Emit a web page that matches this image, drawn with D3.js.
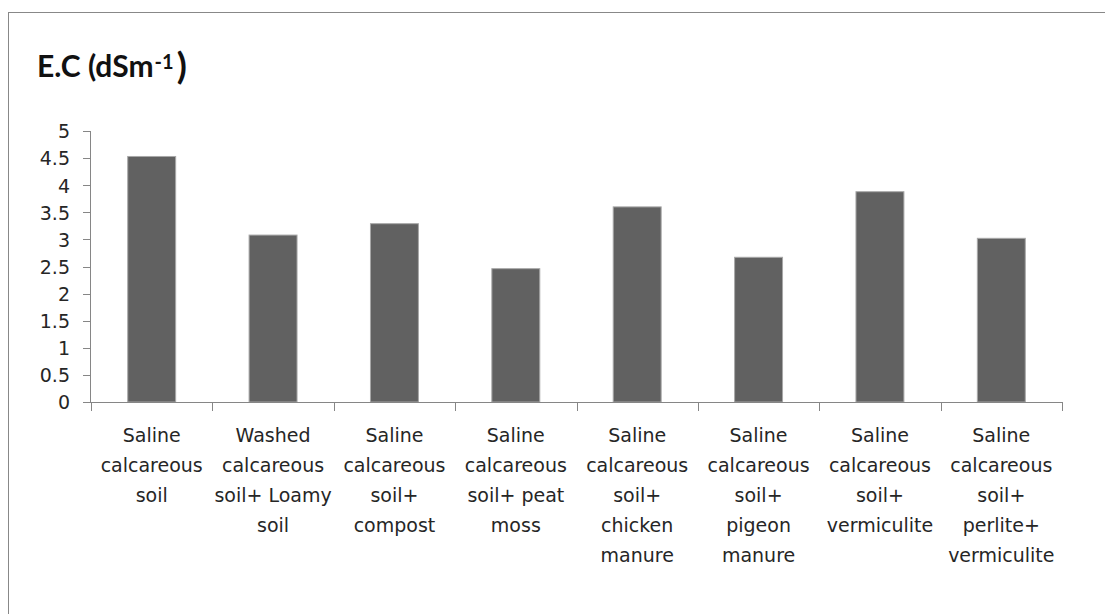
<html lang="en">
<head>
<meta charset="utf-8">
<title>E.C bar chart</title>
<style>
    body { margin: 0; background-color: white; }
    svg { display: block; background-color: white; }
    .axis path, .axis line { fill: none; stroke: #868686; shape-rendering: crispEdges; }
    .axis text { font-family: "DejaVu Sans", sans-serif; font-size: 19px; fill: #262626; }
    .title { font-family: Lato, sans-serif; font-weight: bold; font-size: 30px; fill: #111; }
    .bar { fill: #616161; stroke: #a8a8a8; stroke-width: 1; }
</style>
</head>
<body>
<script src="https://cdnjs.cloudflare.com/ajax/libs/d3/7.8.5/d3.min.js"></script>
<script>
var categories = [
    ["Saline", "calcareous", "soil"],
    ["Washed", "calcareous", "soil+ Loamy", "soil"],
    ["Saline", "calcareous", "soil+", "compost"],
    ["Saline", "calcareous", "soil+ peat", "moss"],
    ["Saline", "calcareous", "soil+", "chicken", "manure"],
    ["Saline", "calcareous", "soil+", "pigeon", "manure"],
    ["Saline", "calcareous", "soil+", "vermiculite"],
    ["Saline", "calcareous", "soil+", "perlite+", "vermiculite"]
];
var ecValues = [4.53, 3.08, 3.29, 2.46, 3.60, 2.67, 3.88, 3.02];
var yTicks = [0, 0.5, 1, 1.5, 2, 2.5, 3, 3.5, 4, 4.5, 5];

var fullwidth = 1105, fullheight = 614;
var margin = { left: 91, right: 43, top: 131, bottom: 212 };
var width = fullwidth - margin.left - margin.right;
var height = fullheight - margin.top - margin.bottom;

var svg = d3.select("body").append("svg")
    .attr("width", fullwidth)
    .attr("height", fullheight);

// chart frame
svg.append("rect")
    .attr("x", 8.5).attr("y", 12.5)
    .attr("width", 1200).attr("height", 800)
    .attr("fill", "none")
    .attr("stroke", "#888");

var title = svg.append("text")
    .attr("class", "title")
    .attr("x", 37).attr("y", 77)
    .text("E.C (dSm");
title.append("tspan").attr("font-size", "20px").attr("dx", 1).attr("dy", -8).text("-1");
title.append("tspan").attr("font-size", "37px").attr("dx", 3).attr("dy", 10).text(")");

var g = svg.append("g")
    .attr("transform", "translate(" + margin.left + "," + margin.top + ")");

var idx = d3.range(categories.length);

var xScale = d3.scaleBand()
    .domain(idx)
    .range([0, width])
    .paddingInner(0.605)
    .paddingOuter(0.3025);

var yScale = d3.scaleLinear()
    .domain([0, 5])
    .range([height, 0]);

// bars
g.selectAll(".bar")
    .data(ecValues)
    .enter()
    .append("rect")
    .attr("class", "bar")
    .attr("x", function(d, i) { return xScale(i); })
    .attr("y", function(d) { return yScale(d); })
    .attr("width", xScale.bandwidth())
    .attr("height", function(d) { return height - yScale(d); });

// y axis
var yAxis = d3.axisLeft(yScale)
    .tickValues(yTicks)
    .tickSize(8)
    .tickPadding(13)
    .tickFormat(function(d) { return String(d); });

g.append("g")
    .attr("class", "y axis")
    .call(yAxis)
    .call(function(s) { s.select(".domain").attr("d", "M-0.5," + height + "V0.5H-8"); })
    .selectAll("text").attr("dy", "0.36em");

// x axis with ticks at band boundaries
var step = xScale.step();
var xg = g.append("g")
    .attr("class", "x axis")
    .attr("transform", "translate(0," + height + ")");

xg.append("path")
    .attr("d", "M-8,0.5H" + width);

xg.selectAll(".tick")
    .data(d3.range(categories.length + 1))
    .enter()
    .append("line")
    .attr("x1", function(d) { return Math.round(d * step) + 0.5; })
    .attr("x2", function(d) { return Math.round(d * step) + 0.5; })
    .attr("y1", 0).attr("y2", 9);

var labels = xg.selectAll(".label")
    .data(categories)
    .enter()
    .append("text")
    .attr("text-anchor", "middle")
    .attr("transform", function(d, i) {
        return "translate(" + (xScale(i) + xScale.bandwidth() / 2) + ",40)";
    });

labels.selectAll("tspan")
    .data(function(d) { return d; })
    .enter()
    .append("tspan")
    .attr("x", 0)
    .attr("y", function(d, j) { return j * 30; })
    .text(function(d) { return d; });
</script>
</body>
</html>
